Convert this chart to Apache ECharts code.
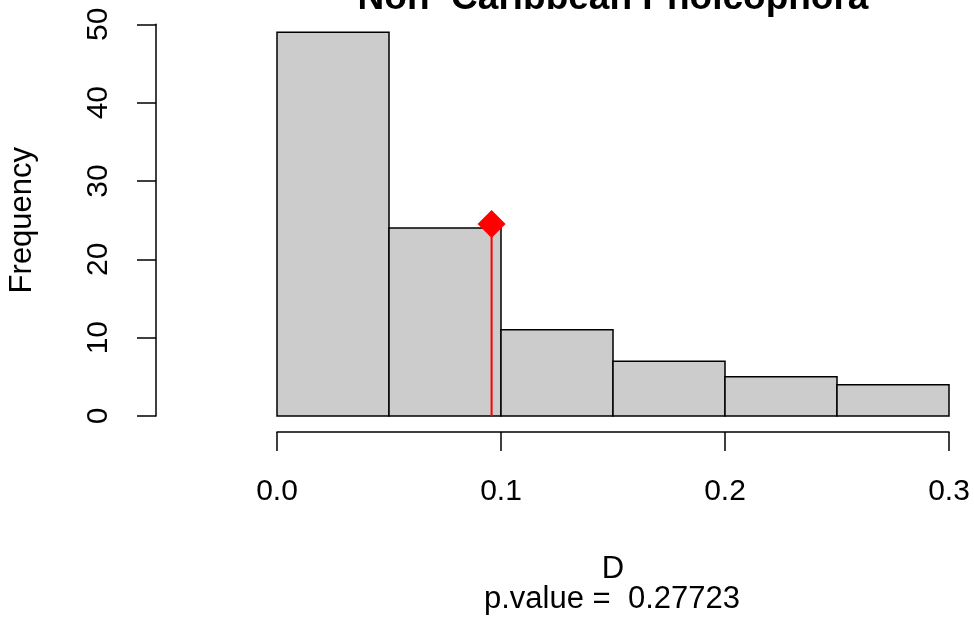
<!DOCTYPE html>
<html>
<head>
<meta charset="utf-8">
<script src="https://cdn.jsdelivr.net/npm/echarts@6/dist/echarts.min.js"></script>
<style>
  html, body { margin: 0; padding: 0; background: #fff; }
  #chart { width: 974px; height: 622px; }
</style>
</head>
<body>
<div id="chart"></div>
<script>
// Histogram of D with the observed statistic marked in red
const binStarts = [0.00, 0.05, 0.10, 0.15, 0.20, 0.25];
const binWidth = 0.05;
const counts = [49, 24, 11, 7, 5, 4];
const xTicks = [0.0, 0.1, 0.2, 0.3];
const yTicks = [0, 10, 20, 30, 40, 50];
const observedD = 0.0958;
const observedY = 24.5;
const titleText = 'Non\u2212Caribbean Pholcophora';
const pValueText = 'p.value =  0.27723';

const font = '"Liberation Sans", Arial, Helvetica, sans-serif';

const bars = binStarts.map((s, i) => [s, s + binWidth, counts[i]]);

const chart = echarts.init(document.getElementById('chart'));
chart.setOption({
  animation: false,
  backgroundColor: '#ffffff',
  grid: {
    left: 277, right: 25, top: 24.3, bottom: 206,
    containLabel: false,
    outerBoundsMode: 'none'
  },
  xAxis: {
    type: 'value',
    min: 0, max: 0.3, interval: 0.1,
    offset: 16,
    name: 'D',
    nameLocation: 'middle',
    nameGap: 122,
    nameTextStyle: { fontFamily: font, fontSize: 31, color: '#000' },
    axisLine: { show: true, onZero: false, lineStyle: { color: '#000', width: 1.5 } },
    axisTick: { show: true, length: 19, lineStyle: { color: '#000', width: 1.5 } },
    axisLabel: {
      margin: 45,
      fontFamily: font, fontSize: 30, color: '#000',
      formatter: v => v.toFixed(1)
    },
    splitLine: { show: false }
  },
  yAxis: {
    type: 'value',
    min: 0, max: 50, interval: 10,
    offset: 121,
    name: 'Frequency',
    nameLocation: 'middle',
    nameGap: 118,
    nameRotate: 90,
    nameTextStyle: { fontFamily: font, fontSize: 31, color: '#000' },
    axisLine: { show: true, onZero: false, lineStyle: { color: '#000', width: 1.5 } },
    axisTick: { show: true, length: 19, lineStyle: { color: '#000', width: 1.5 } },
    axisLabel: {
      rotate: 90,
      margin: 42,
      fontFamily: font, fontSize: 30, color: '#000'
    },
    splitLine: { show: false }
  },
  series: [
    {
      type: 'custom',
      data: bars,
      encode: { x: [0, 1], y: 2 },
      renderItem: function (params, api) {
        const p0 = api.coord([api.value(0), 0]);
        const p1 = api.coord([api.value(1), api.value(2)]);
        return {
          type: 'rect',
          shape: { x: p0[0], y: p1[1], width: p1[0] - p0[0], height: p0[1] - p1[1] },
          style: { fill: '#cccccc', stroke: '#000', lineWidth: 1.5 }
        };
      },
      z: 2
    },
    {
      type: 'line',
      data: [[observedD, 0], [observedD, observedY]],
      symbol: 'none',
      lineStyle: { color: '#ff0000', width: 2 },
      z: 3
    },
    {
      type: 'scatter',
      data: [[observedD, observedY]],
      symbol: 'diamond',
      symbolSize: [28, 28],
      itemStyle: { color: '#ff0000', opacity: 1 },
      z: 4
    }
  ],
  graphic: [
    {
      type: 'text',
      x: 613,
      y: -19.5,
      style: {
        text: titleText,
        textAlign: 'center',
        verticalAlign: 'top',
        font: 'bold 37px ' + font,
        fill: '#000'
      }
    },
    {
      type: 'text',
      x: 612,
      y: 584,
      style: {
        text: pValueText,
        textAlign: 'center',
        verticalAlign: 'top',
        font: '31px ' + font,
        fill: '#000'
      }
    }
  ]
});
</script>
</body>
</html>
